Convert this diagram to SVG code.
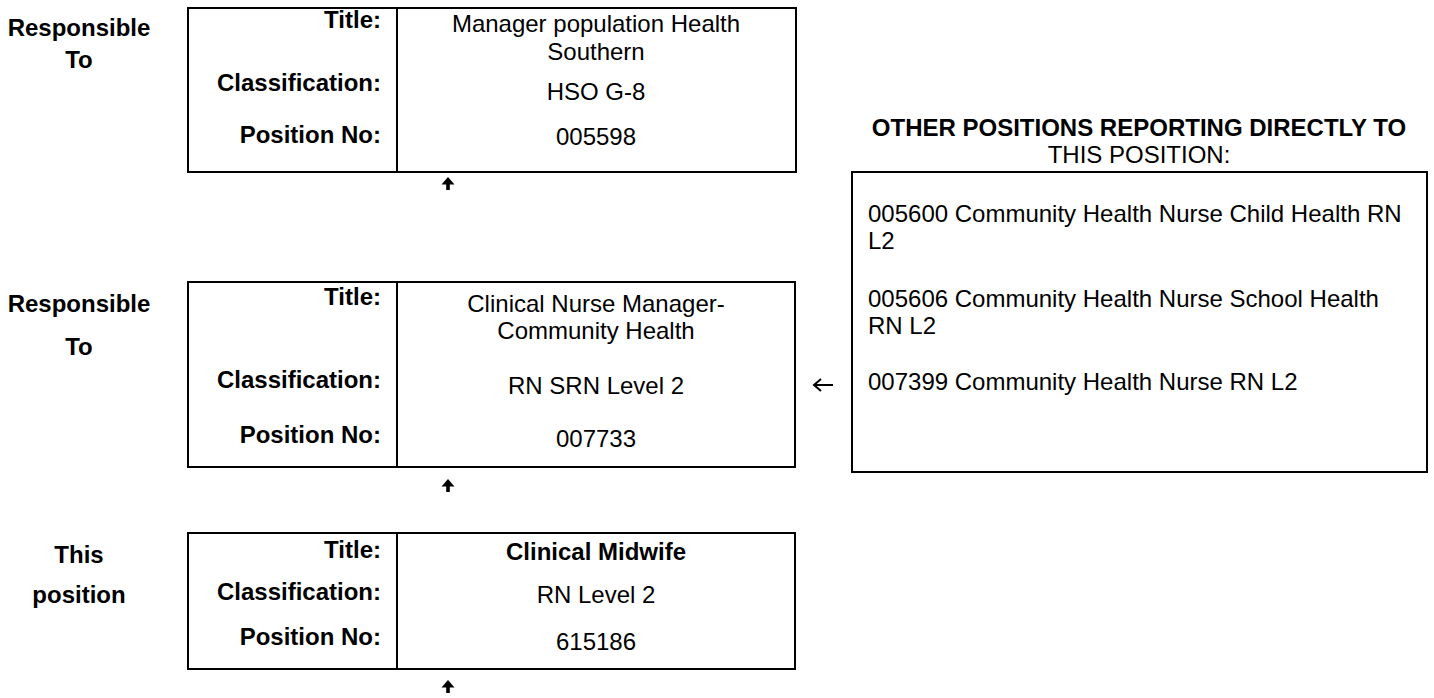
<svg xmlns="http://www.w3.org/2000/svg" width="1434" height="698" viewBox="0 0 1434 698">
<style>
text{font-family:"Liberation Sans",Arial,sans-serif;font-size:24px;fill:#000}
.b{font-weight:bold}
.c{text-anchor:middle}
.r{text-anchor:end}
.box{fill:#fff;stroke:#000;stroke-width:2}
.div{stroke:#000;stroke-width:2}
.ln{stroke:#000;stroke-width:2;fill:none}
</style>
<defs>
<path id="up" d="M0,0 L6.5,7.5 L1.8,7.5 L1.8,13 L-1.8,13 L-1.8,7.5 L-6.5,7.5 Z" fill="#000"/>
</defs>
<rect width="1434" height="698" fill="#fff"/>
<g id="side-labels">
<text class="b c" x="79" y="36">Responsible</text>
<text class="b c" x="79" y="68">To</text>
<text class="b c" x="79" y="312">Responsible</text>
<text class="b c" x="79" y="355">To</text>
<text class="b c" x="79" y="563">This</text>
<text class="b c" x="79" y="603">position</text>
</g>
<g id="node-manager">
<rect class="box" x="188" y="8" width="608" height="164"/>
<line class="div" x1="397" y1="8" x2="397" y2="172"/>
<text class="b r" x="381" y="28">Title:</text>
<text class="b r" x="381" y="91">Classification:</text>
<text class="b r" x="381" y="143">Position No:</text>
<text class="c" x="596" y="32">Manager population Health</text>
<text class="c" x="596" y="60">Southern</text>
<text class="c" x="596" y="100">HSO G-8</text>
<text class="c" x="596" y="145">005598</text>
</g>
<g id="node-cnm">
<rect class="box" x="188" y="282" width="607" height="185"/>
<line class="div" x1="397" y1="282" x2="397" y2="467"/>
<text class="b r" x="381" y="305">Title:</text>
<text class="b r" x="381" y="388">Classification:</text>
<text class="b r" x="381" y="443">Position No:</text>
<text class="c" x="596" y="312">Clinical Nurse Manager-</text>
<text class="c" x="596" y="339">Community Health</text>
<text class="c" x="596" y="394">RN SRN Level 2</text>
<text class="c" x="596" y="447">007733</text>
</g>
<g id="node-this">
<rect class="box" x="188" y="533" width="607" height="136"/>
<line class="div" x1="397" y1="533" x2="397" y2="669"/>
<text class="b r" x="381" y="558">Title:</text>
<text class="b r" x="381" y="600">Classification:</text>
<text class="b r" x="381" y="645">Position No:</text>
<text class="b c" x="596" y="560">Clinical Midwife</text>
<text class="c" x="596" y="603">RN Level 2</text>
<text class="c" x="596" y="650">615186</text>
</g>
<g id="node-others">
<text class="b c" x="1139" y="136">OTHER POSITIONS REPORTING DIRECTLY TO</text>
<text class="c" x="1139" y="163">THIS POSITION:</text>
<rect class="box" x="852" y="172" width="575" height="300"/>
<text x="868" y="222">005600 Community Health Nurse Child Health RN</text>
<text x="868" y="249">L2</text>
<text x="868" y="307">005606 Community Health Nurse School Health</text>
<text x="868" y="334">RN L2</text>
<text x="868" y="390">007399 Community Health Nurse RN L2</text>
</g>
<g id="connectors">
<use href="#up" x="448" y="177"/>
<use href="#up" x="448" y="479"/>
<use href="#up" x="448" y="680"/>
<path class="ln" d="M833,385 H814 M821,379 L814,385 L821,391"/>
</g>
</svg>
